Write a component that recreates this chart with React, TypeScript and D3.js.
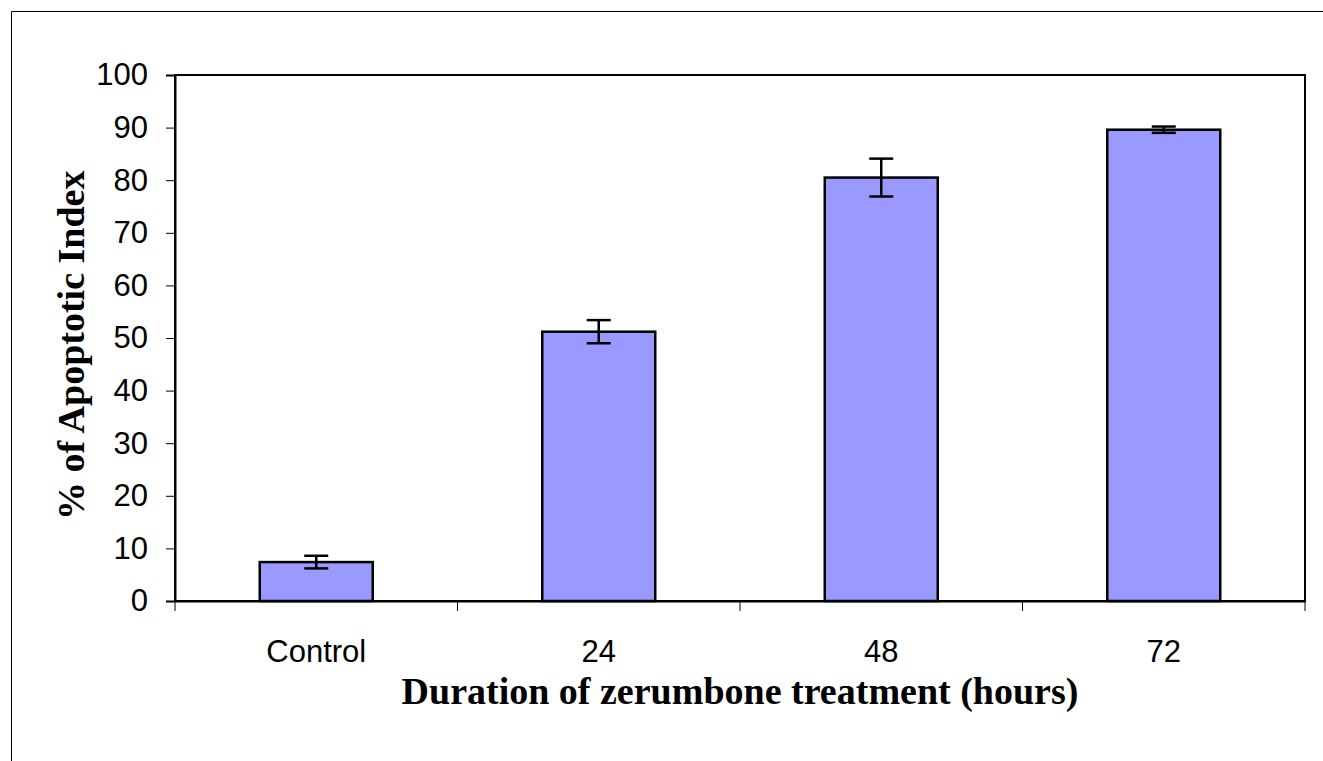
import { select, scaleLinear, scaleBand, axisBottom, axisLeft } from 'd3';
import { useEffect, useRef } from 'react';

const categories = ['Control', '24', '48', '72'];
const apoptoticIndex = [7.4, 51.2, 80.5, 89.6];
const errorValues = [1.2, 2.2, 3.6, 0.6];
const yTicks = [0, 10, 20, 30, 40, 50, 60, 70, 80, 90, 100];

function App() {
    const svgElement = useRef<SVGSVGElement>(null);

    useEffect(() => {
        if (svgElement.current == null) return;
        const svg = select(svgElement.current);
        svg.selectAll('*').remove();

        const left = 175, right = 1305, top = 75, bottom = 601;
        const x = scaleBand<string>().domain(categories).range([left, right]).paddingInner(0).paddingOuter(0);
        const y = scaleLinear().domain([0, 100]).range([bottom, top]);
        const barW = x.bandwidth() / 2.5;

        // outer frame (only top/left visible)
        svg.append('path')
            .attr('d', 'M11.5,761 L11.5,11.5 L1323,11.5')
            .attr('fill', 'none')
            .attr('stroke', '#000')
            .attr('stroke-width', 1);

        // plot area border
        svg.append('rect')
            .attr('x', left).attr('y', top)
            .attr('width', right - left).attr('height', bottom - top)
            .attr('fill', 'none').attr('stroke', '#000').attr('stroke-width', 2);

        // bars
        svg.append('g').selectAll('rect')
            .data(apoptoticIndex)
            .enter()
            .append('rect')
            .attr('x', (_, i) => (x(categories[i]) as number) + (x.bandwidth() - barW) / 2)
            .attr('y', d => y(d))
            .attr('width', barW)
            .attr('height', d => bottom - y(d))
            .attr('fill', '#9999FF')
            .attr('stroke', '#000')
            .attr('stroke-width', 2.5);

        // error bars
        const eb = svg.append('g').attr('stroke', '#000').attr('stroke-width', 2.5);
        apoptoticIndex.forEach((v, i) => {
            const cx = (x(categories[i]) as number) + x.bandwidth() / 2;
            const e = errorValues[i];
            eb.append('line').attr('x1', cx).attr('x2', cx).attr('y1', y(v + e)).attr('y2', y(v - e));
            eb.append('line').attr('x1', cx - 12).attr('x2', cx + 12).attr('y1', y(v + e)).attr('y2', y(v + e));
            eb.append('line').attr('x1', cx - 12).attr('x2', cx + 12).attr('y1', y(v - e)).attr('y2', y(v - e));
        });

        // y axis
        const ya = svg.append('g')
            .attr('transform', `translate(${left},0)`)
            .call(axisLeft(y).tickValues(yTicks).tickSize(9).tickPadding(18));
        ya.select('.domain').attr('stroke', '#000').attr('stroke-width', 2);
        ya.selectAll('.tick line').attr('stroke', '#000').attr('stroke-width', 1);
        ya.selectAll('.tick text')
            .attr('font-family', 'Liberation Sans, Arial, sans-serif')
            .attr('font-size', 31)
            .attr('fill', '#000');

        // x axis
        const xa = svg.append('g')
            .attr('transform', `translate(0,${bottom})`)
            .call(axisBottom(x).tickSize(0).tickPadding(39));
        xa.select('.domain').attr('stroke', '#000').attr('stroke-width', 2);
        xa.selectAll('.tick text')
            .attr('font-family', 'Liberation Sans, Arial, sans-serif')
            .attr('font-size', 31)
            .attr('fill', '#000');
        // x tick marks at category boundaries
        const bounds = categories.map(c => x(c) as number).concat([right]);
        xa.selectAll('.bound')
            .data(bounds)
            .enter()
            .append('line')
            .attr('x1', d => d).attr('x2', d => d)
            .attr('y1', 0).attr('y2', 10)
            .attr('stroke', '#000').attr('stroke-width', 1);

        // axis titles
        svg.append('text')
            .attr('x', 740).attr('y', 704)
            .attr('text-anchor', 'middle')
            .attr('font-family', 'Liberation Serif, Times New Roman, serif')
            .attr('font-weight', 'bold')
            .attr('font-size', 38)
            .text('Duration of zerumbone treatment (hours)');

        svg.append('clipPath').attr('id', 'ytitle-clip')
            .append('rect').attr('x', 0).attr('y', 165).attr('width', 175).attr('height', 500);

        svg.append('g')
            .attr('clip-path', 'url(#ytitle-clip)')
            .append('text')
            .attr('transform', 'translate(84,520) rotate(-90)')
            .attr('text-anchor', 'start')
            .attr('font-family', 'Liberation Serif, Times New Roman, serif')
            .attr('font-weight', 'bold')
            .attr('font-size', 38)
            .text('% of Apoptotic Index');
    }, []);

    return (
        <svg ref={svgElement} width={1323} height={761}
            style={{ position: 'absolute', left: 0, top: 0, background: '#fff' }}></svg>
    );
}

export default App;
